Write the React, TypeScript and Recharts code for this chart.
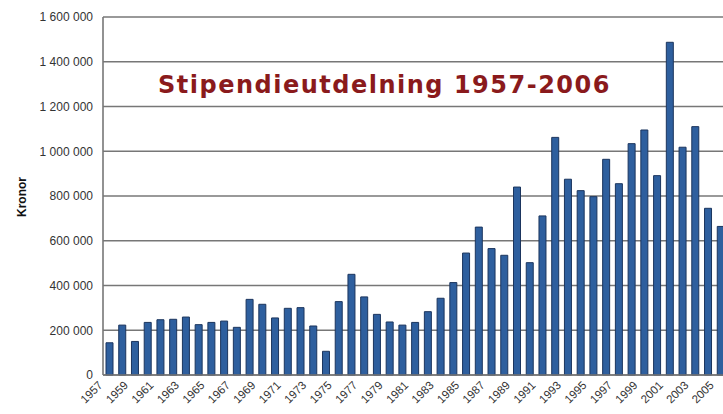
import { BarChart, Bar, XAxis, YAxis, CartesianGrid } from 'recharts';

const years = [
  '1957', '1958', '1959', '1960', '1961', '1962', '1963', '1964', '1965', '1966',
  '1967', '1968', '1969', '1970', '1971', '1972', '1973', '1974', '1975', '1976',
  '1977', '1978', '1979', '1980', '1981', '1982', '1983', '1984', '1985', '1986',
  '1987', '1988', '1989', '1990', '1991', '1992', '1993', '1994', '1995', '1996',
  '1997', '1998', '1999', '2000', '2001', '2002', '2003', '2004', '2005',
];

const kronor = [
  144000, 223000, 150000, 235000, 247000, 249000, 259000, 225000, 235000, 241000,
  213000, 338000, 316000, 255000, 298000, 301000, 219000, 106000, 328000, 450000,
  349000, 271000, 237000, 223000, 235000, 283000, 343000, 413000, 545000, 661000,
  565000, 535000, 840000, 502000, 711000, 1062000, 875000, 824000, 797000, 964000,
  855000, 1034000, 1095000, 891000, 1487000, 1018000, 1110000, 745000, 664000,
];

const yTicks = [0, 200000, 400000, 600000, 800000, 1000000, 1200000, 1400000, 1600000];

const TITLE = 'Stipendieutdelning 1957-2006';

const data = years.map((year, i) => ({ year, value: kronor[i] }));

const fmt = (v: number) => String(v).replace(/\B(?=(\d{3})+(?!\d))/g, '\u00a0');

function YearTick({ x, y, payload }: any) {
  const ax = x - 6;
  const ay = y + 9;
  return (
    <text
      x={ax}
      y={ay}
      transform={`rotate(-45 ${ax} ${ay})`}
      textAnchor="end"
      fill="#333"
      fontSize={11.5}
      fontFamily="'Liberation Sans', Arial, sans-serif"
    >
      {payload.value}
    </text>
  );
}

export default function App() {
  return (
    <div style={{ position: 'fixed', left: 0, top: 0, width: 723, height: 414, overflow: 'hidden', background: '#fff' }}>
      <BarChart
        width={740}
        height={414}
        data={data}
        margin={{ top: 17, right: 13, bottom: 9, left: 0 }}
        barSize={7}
      >
        <CartesianGrid horizontal vertical={false} stroke="#777" strokeWidth={1.6} />
        <XAxis
          dataKey="year"
          interval={1}
          height={30}
          tickLine={false}
          tickSize={0}
          axisLine={{ stroke: '#777', strokeWidth: 1.6 }}
          tick={<YearTick />}
        />
        <YAxis
          width={103}
          domain={[0, 1600000]}
          ticks={yTicks}
          tickFormatter={fmt}
          tickLine={false}
          tickSize={0}
          tickMargin={10}
          axisLine={{ stroke: '#777', strokeWidth: 1.6 }}
          tick={{ fill: '#333', fontSize: 12, fontFamily: "'Liberation Sans', Arial, sans-serif" }}
          label={{
            content: () => (
              <text
                x={22}
                y={197}
                transform="rotate(-90 22 197)"
                textAnchor="middle"
                dominantBaseline="central"
                fontSize={12}
                fontWeight="bold"
                fill="#111"
                fontFamily="'Liberation Sans', Arial, sans-serif"
              >
                Kronor
              </text>
            ),
          }}
        />
        <Bar dataKey="value" fill="#2e5f9e" stroke="#1b355e" strokeWidth={1} isAnimationActive={false} />
      </BarChart>
      <div
        style={{
          position: 'absolute',
          left: 158,
          top: 74,
          whiteSpace: 'nowrap',
          fontFamily: "'DejaVu Sans', Verdana, sans-serif",
          fontWeight: 'bold',
          fontSize: 24,
          lineHeight: '23px',
          letterSpacing: 1.5,
          color: '#8a1a1c',
        }}
      >
        {TITLE}
      </div>
    </div>
  );
}
